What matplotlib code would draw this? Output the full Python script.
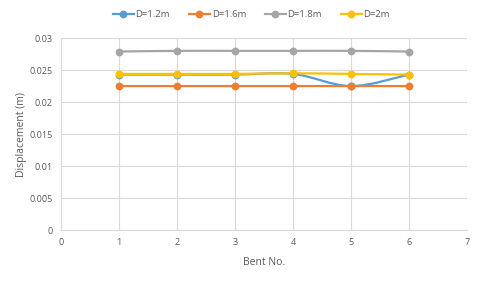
import matplotlib
matplotlib.use("Agg")
import matplotlib.pyplot as plt
import numpy as np
from matplotlib.path import Path
from matplotlib.patches import PathPatch
from matplotlib.lines import Line2D

bents = [1, 2, 3, 4, 5, 6]
d12 = [0.0243, 0.0243, 0.0243, 0.0244, 0.0225, 0.0243]
d16 = [0.0225, 0.0225, 0.0225, 0.0225, 0.0225, 0.0225]
d18 = [0.0279, 0.0280, 0.0280, 0.0280, 0.0280, 0.0279]
d20 = [0.0244, 0.0244, 0.0244, 0.0245, 0.0244, 0.0243]
labels = ["D=1.2m", "D=1.6m", "D=1.8m", "D=2m"]
colors = ["#5B9BD5", "#ED7D31", "#A5A5A5", "#FFC000"]

plt.rcParams['font.family'] = ['Open Sans', 'DejaVu Sans']
txt = "#595959"


def smooth_path(x, y, t=1.0/6):
    # excel-style smoothed line: catmull-rom segments as cubic beziers
    x = np.asarray(x, float)
    y = np.asarray(y, float)
    verts = [(x[0], y[0])]
    codes = [Path.MOVETO]
    n = len(x)
    for i in range(n - 1):
        x0, y0 = (x[i - 1], y[i - 1]) if i > 0 else (x[i], y[i])
        x3, y3 = (x[i + 2], y[i + 2]) if i + 2 < n else (x[i + 1], y[i + 1])
        c1 = (x[i] + (x[i + 1] - x0) * t, y[i] + (y[i + 1] - y0) * t)
        c2 = (x[i + 1] - (x3 - x[i]) * t, y[i + 1] - (y3 - y[i]) * t)
        verts += [c1, c2, (x[i + 1], y[i + 1])]
        codes += [Path.CURVE4] * 3
    return Path(verts, codes)


fig = plt.figure(figsize=(4.8, 2.82), dpi=100)
ax = fig.add_axes([0.127, 0.184, 0.846, 0.681])

handles = []
for ys, lab, c in zip([d12, d16, d18, d20], labels, colors):
    ax.add_patch(PathPatch(smooth_path(bents, ys), fill=False, edgecolor=c, lw=1.6, zorder=3))
    ax.plot(bents, ys, ls="none", marker="o", ms=4.6, color=c, zorder=4)
    handles.append(Line2D([], [], color=c, lw=1.6, marker="o", ms=4.6, label=lab))

ax.set_xlim(0, 7)
ax.set_ylim(0, 0.03)
ax.set_xticks(range(0, 8))
ax.set_yticks([0, 0.005, 0.01, 0.015, 0.02, 0.025, 0.03])
ax.set_yticklabels(["0", "0.005", "0.01", "0.015", "0.02", "0.025", "0.03"])
ax.grid(True, color="#D9D9D9", lw=0.8)
ax.set_axisbelow(True)
for s in ["top", "right"]:
    ax.spines[s].set_visible(False)
for s in ["left", "bottom"]:
    ax.spines[s].set_color("#D9D9D9")
    ax.spines[s].set_linewidth(0.8)
ax.tick_params(length=0, labelsize=6.5, labelcolor=txt, pad=6)
ax.set_xlabel("Bent No.", fontsize=7.5, color=txt, labelpad=7)
ax.set_ylabel("Displacement (m)", fontsize=7.5, color=txt, labelpad=2)

fig.legend(handles=handles, loc="center", bbox_to_anchor=(0.524, 0.947), ncol=4,
           frameon=False, fontsize=6.8, labelcolor=txt, handlelength=2.2,
           handletextpad=0.2, columnspacing=2.0)

fig.savefig("out.png", dpi=100)
